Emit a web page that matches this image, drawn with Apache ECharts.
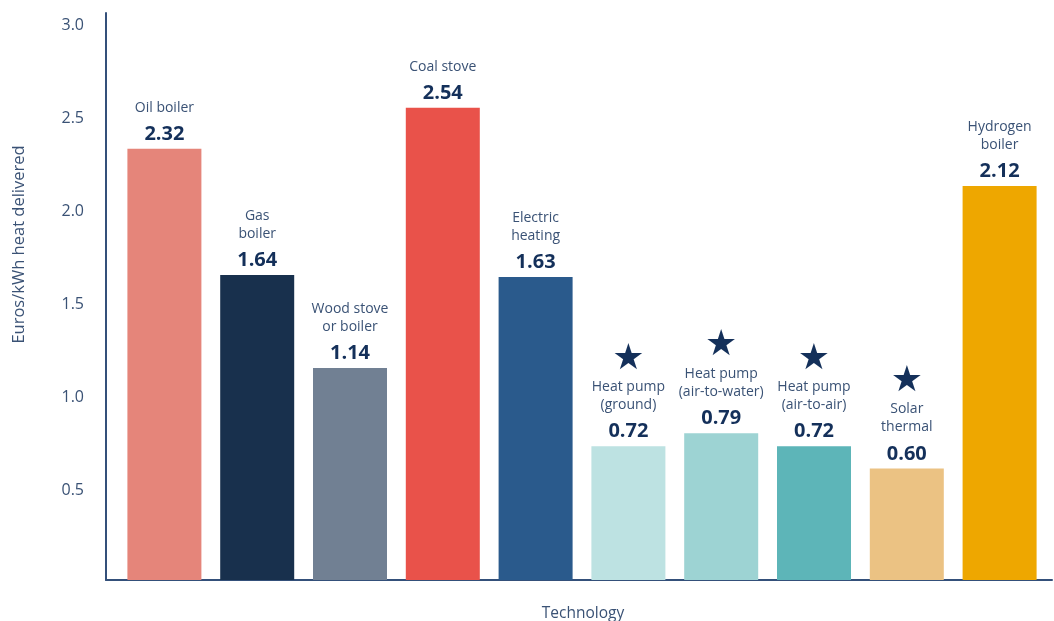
<!DOCTYPE html>
<html>
<head>
<meta charset="utf-8">
<title>Heating cost per kWh by technology</title>
<script src="https://cdn.jsdelivr.net/npm/echarts@6/dist/echarts.min.js"></script>
<style>
  html, body { margin: 0; padding: 0; background: #ffffff; }
  #chart { width: 1054px; height: 621px; }
</style>
</head>
<body>
<div id="chart"></div>
<script>
// Technologies (line breaks follow the label wrapping above each bar)
const categories = [
  'Oil boiler', 'Gas\nboiler', 'Wood stove\nor boiler', 'Coal stove', 'Electric\nheating',
  'Heat pump\n(ground)', 'Heat pump\n(air-to-water)', 'Heat pump\n(air-to-air)',
  'Solar\nthermal', 'Hydrogen\nboiler'
];
// Euros per kWh of heat delivered
const costs = [2.32, 1.64, 1.14, 2.54, 1.63, 0.72, 0.79, 0.72, 0.60, 2.12];
// Technologies flagged with a star
const starred = [false, false, false, false, false, true, true, true, true, false];
const barColors = [
  '#e5857a', '#18304d', '#718093', '#e9524a', '#2a5a8c',
  '#bde2e2', '#9dd3d3', '#5db5b8', '#ebc283', '#eea700'
];
const yTicks = [0.5, 1.0, 1.5, 2.0, 2.5, 3.0];

const FONT = '"Open Sans", "Noto Sans", sans-serif';
const AXIS_COLOR = '#34507a';
const TEXT_COLOR = '#3a5275';
const NAVY = '#14305a';
const Y_MAX = 3.05;

const chart = echarts.init(document.getElementById('chart'));

const barData = costs.map((v, i) => ({
  value: v,
  itemStyle: { color: barColors[i] },
  label: {
    formatter: (starred[i] ? '{star|★}\n' : '') +
      '{name|' + categories[i] + '}\n{val|' + v.toFixed(2) + '}'
  }
}));

chart.setOption({
  animation: false,
  backgroundColor: '#ffffff',
  grid: [
    // plotting area for the bars
    { left: 118, right: 8, top: 13, bottom: 41, outerBoundsMode: 'none' },
    // frame carrying the visible axis lines, ticks and titles
    { left: 106, right: 2, top: 13, bottom: 41, outerBoundsMode: 'none' }
  ],
  xAxis: [
    {
      type: 'category', gridIndex: 0, data: categories,
      axisLine: { show: false }, axisTick: { show: false },
      axisLabel: { show: false }, splitLine: { show: false }
    },
    {
      type: 'value', gridIndex: 1, min: 0, max: 1,
      name: 'Technology', nameLocation: 'middle', nameGap: 26,
      nameTextStyle: {
        color: TEXT_COLOR, fontFamily: FONT, fontSize: 15.5,
        padding: [0, 0, 0, 8]
      },
      axisLine: { show: true, lineStyle: { color: AXIS_COLOR, width: 2 } },
      axisTick: { show: false }, axisLabel: { show: false }, splitLine: { show: false }
    }
  ],
  yAxis: [
    {
      type: 'value', gridIndex: 0, min: 0, max: Y_MAX,
      axisLine: { show: false }, axisTick: { show: false },
      axisLabel: { show: false }, splitLine: { show: false }
    },
    {
      type: 'value', gridIndex: 1, min: 0, max: Y_MAX, interval: 0.5,
      name: 'Euros/kWh heat delivered', nameLocation: 'middle', nameGap: 78,
      nameTextStyle: {
        color: TEXT_COLOR, fontFamily: FONT, fontSize: 16.5,
        padding: [0, 0, 0, 104]
      },
      axisLine: { show: true, lineStyle: { color: AXIS_COLOR, width: 2 } },
      axisTick: { show: false }, splitLine: { show: false },
      axisLabel: {
        color: TEXT_COLOR, fontFamily: FONT, fontSize: 16, margin: 22,
        formatter: (v) => yTicks.some(t => Math.abs(t - v) < 1e-6) ? '{t|' + v.toFixed(1) + '}' : '',
        rich: {
          t: { color: TEXT_COLOR, fontFamily: FONT, fontSize: 16, padding: [7, 0, 0, 0] }
        }
      }
    }
  ],
  series: [{
    type: 'bar',
    xAxisIndex: 0, yAxisIndex: 0,
    barWidth: 74,
    data: barData,
    label: {
      show: true,
      position: 'top',
      distance: -3,
      align: 'center',
      rich: {
        star: { fontSize: 36, lineHeight: 38, color: NAVY, fontFamily: '"DejaVu Sans", sans-serif' },
        name: { fontSize: 14, lineHeight: 18, color: TEXT_COLOR, fontFamily: FONT },
        val: { fontSize: 20, lineHeight: 35, color: NAVY, fontFamily: FONT, fontWeight: 'bold' }
      }
    }
  }]
});
</script>
</body>
</html>
